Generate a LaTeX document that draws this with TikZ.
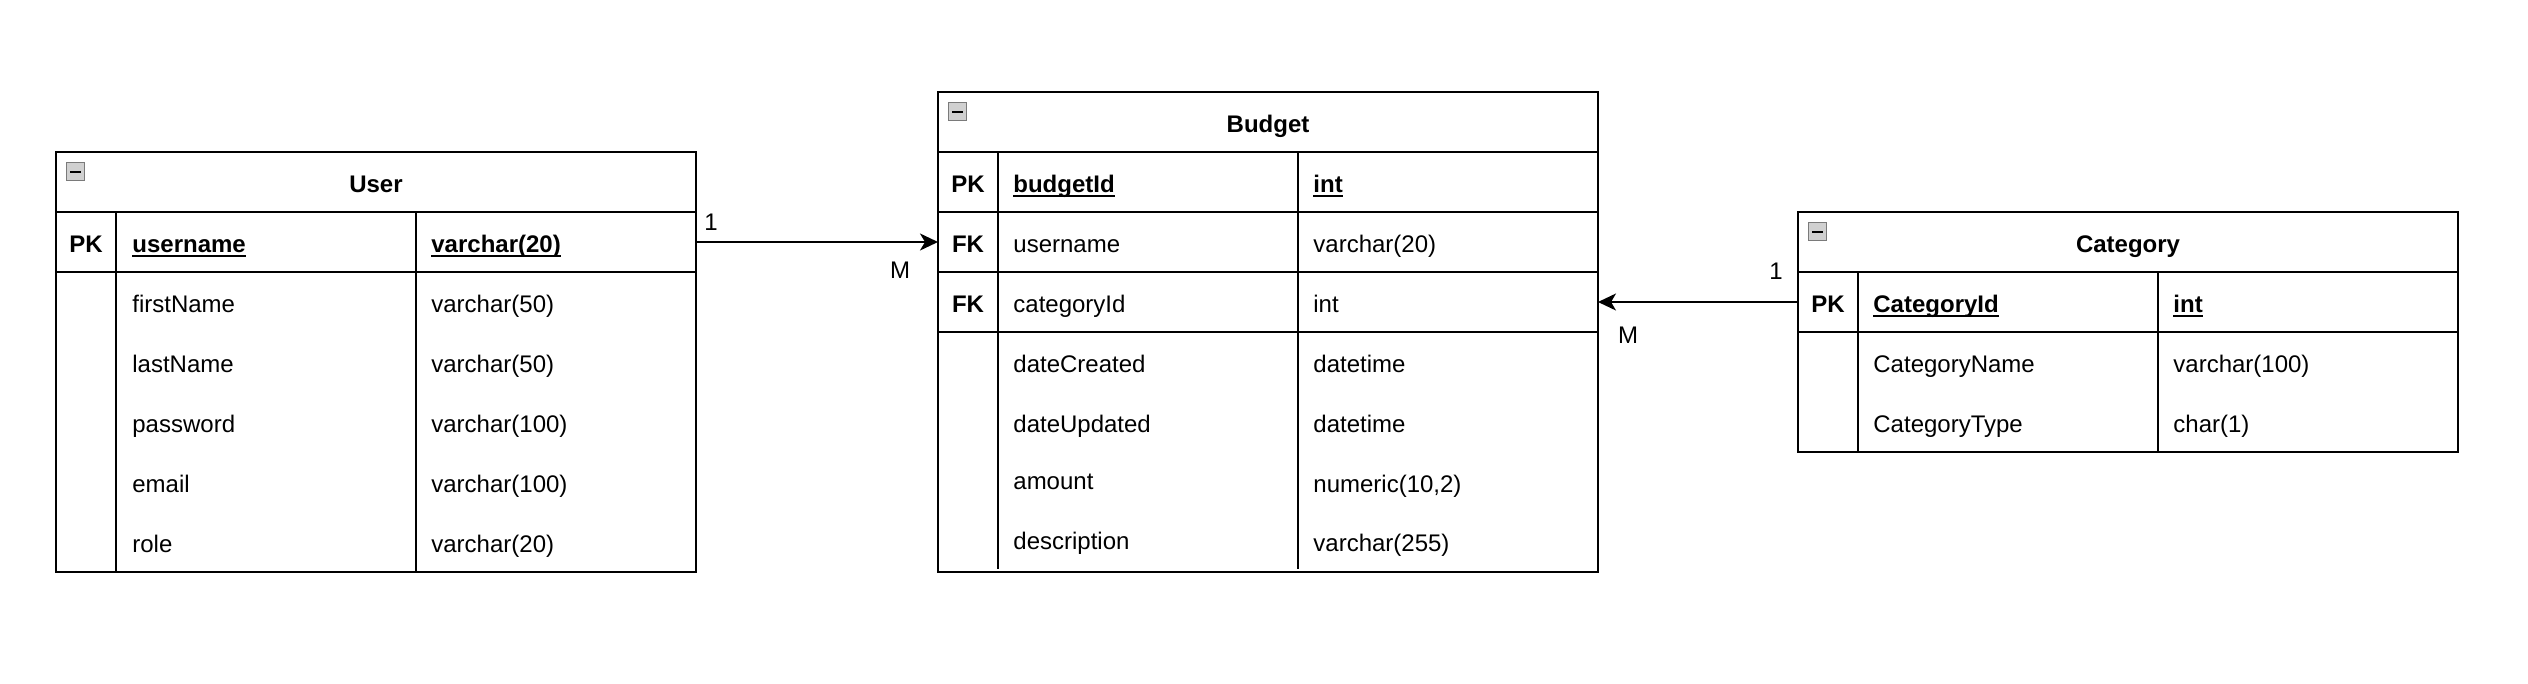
\documentclass[tikz,border=0pt]{standalone}
\usepackage{fontspec}
\setmainfont{Liberation Sans}
\usetikzlibrary{arrows.meta}
\newcommand\myul[1]{\setbox0\hbox{#1}\rlap{\rule[-2.2pt]{\wd0}{0.9pt}}\box0}
\definecolor{iconfill}{HTML}{D0D0D0}
\definecolor{iconline}{HTML}{7A7A7A}
\begin{document}
\begin{tikzpicture}[x=1pt,y=-1pt,
  font=\fontsize{12}{14}\selectfont,
  box/.style={draw, line width=1pt, inner sep=0pt, outer sep=0pt, anchor=north west,
    text height=10.4pt, text depth=0pt},
  hdr/.style={box, minimum height=30pt, font=\fontsize{12}{14}\selectfont\bfseries},
  rowbox/.style={box, minimum height=30pt},
  divline/.style={line width=1pt},
  txt/.style={inner sep=0pt, text height=10.4pt, text depth=0pt},
  keyt/.style={txt, anchor=center, font=\fontsize{12}{14}\selectfont\bfseries},
  namet/.style={txt, anchor=west},
  pkt/.style={namet, font=\fontsize{12}{14}\selectfont\bfseries},
  lbl/.style={txt, anchor=center},
  icon/.style={draw=iconline, fill=iconfill, line width=0.7pt, anchor=north west,
    minimum width=9pt, minimum height=9pt, inner sep=0pt,
    path picture={\draw[black, line width=1.1pt]
      ([xshift=1.8pt]path picture bounding box.west) -- ([xshift=-1.8pt]path picture bounding box.east);}},
  conn/.style={line width=1pt, -{Stealth[length=9pt, width=8.5pt, inset=2.5pt]}}
]
\fill[white] (0,0) rectangle (1264,342);
\useasboundingbox (0,0) rectangle (1264,342);

% ---------------- User ----------------
\node[hdr, minimum width=320pt] (user) at (28,76) {User};
\node[icon] (user-icon) at (33,81) {};
\node[rowbox, minimum width=320pt] (user-pk) at (28,106) {};
\node[box, minimum width=320pt, minimum height=150pt] (user-body) at (28,136) {};
\draw[divline] ([xshift=30pt]user-pk.north west) -- ([xshift=30pt]user-body.south west);
\draw[divline] ([xshift=180pt]user-pk.north west) -- ([xshift=180pt]user-body.south west);
\node[keyt] (user-pk-k) at (43,121) {PK};
\node[pkt] (user-pk-n) at (66,121) {\myul{username}};
\node[pkt] (user-pk-t) at (215.5,121) {\myul{varchar(20)}};
\node[namet] (user-r1-n) at (66,151) {firstName};
\node[namet] (user-r1-t) at (215.5,151) {varchar(50)};
\node[namet] (user-r2-n) at (66,181) {lastName};
\node[namet] (user-r2-t) at (215.5,181) {varchar(50)};
\node[namet] (user-r3-n) at (66,211) {password};
\node[namet] (user-r3-t) at (215.5,211) {varchar(100)};
\node[namet] (user-r4-n) at (66,241) {email};
\node[namet] (user-r4-t) at (215.5,241) {varchar(100)};
\node[namet] (user-r5-n) at (66,271) {role};
\node[namet] (user-r5-t) at (215.5,271) {varchar(20)};

% ---------------- Budget ----------------
\node[hdr, minimum width=330pt] (bud) at (469,46) {Budget};
\node[icon] (bud-icon) at (474,51) {};
\node[rowbox, minimum width=330pt] (bud-pk) at (469,76) {};
\node[rowbox, minimum width=330pt] (bud-fk1) at (469,106) {};
\node[rowbox, minimum width=330pt] (bud-fk2) at (469,136) {};
\node[box, minimum width=330pt, minimum height=120pt] (bud-body) at (469,166) {};
\draw[divline] ([xshift=30pt]bud-pk.north west) -- ([xshift=30pt,yshift=1.6pt]bud-body.south west);
\draw[divline] ([xshift=180pt]bud-pk.north west) -- ([xshift=180pt,yshift=1.6pt]bud-body.south west);
\node[keyt] (bud-pk-k) at (484,91) {PK};
\node[pkt] (bud-pk-n) at (506.5,91) {\myul{budgetId}};
\node[pkt] (bud-pk-t) at (656.5,91) {\myul{int}};
\node[keyt] (bud-fk1-k) at (484,121) {FK};
\node[namet] (bud-fk1-n) at (506.5,121) {username};
\node[namet] (bud-fk1-t) at (656.5,121) {varchar(20)};
\node[keyt] (bud-fk2-k) at (484,151) {FK};
\node[namet] (bud-fk2-n) at (506.5,151) {categoryId};
\node[namet] (bud-fk2-t) at (656.5,151) {int};
\node[namet] (bud-r1-n) at (506.5,181) {dateCreated};
\node[namet] (bud-r1-t) at (656.5,181) {datetime};
\node[namet] (bud-r2-n) at (506.5,211) {dateUpdated};
\node[namet] (bud-r2-t) at (656.5,211) {datetime};
\node[namet] (bud-r3-n) at (506.5,239.5) {amount};
\node[namet] (bud-r3-t) at (656.5,241) {numeric(10,2)};
\node[namet] (bud-r4-n) at (506.5,269.5) {description};
\node[namet] (bud-r4-t) at (656.5,270.5) {varchar(255)};

% ---------------- Category ----------------
\node[hdr, minimum width=330pt] (cat) at (899,106) {Category};
\node[icon] (cat-icon) at (904,111) {};
\node[rowbox, minimum width=330pt] (cat-pk) at (899,136) {};
\node[box, minimum width=330pt, minimum height=60pt] (cat-body) at (899,166) {};
\draw[divline] ([xshift=30pt]cat-pk.north west) -- ([xshift=30pt]cat-body.south west);
\draw[divline] ([xshift=180pt]cat-pk.north west) -- ([xshift=180pt]cat-body.south west);
\node[keyt] (cat-pk-k) at (914,151) {PK};
\node[pkt] (cat-pk-n) at (936.5,151) {\myul{CategoryId}};
\node[pkt] (cat-pk-t) at (1086.5,151) {\myul{int}};
\node[namet] (cat-r1-n) at (936.5,181) {CategoryName};
\node[namet] (cat-r1-t) at (1086.5,181) {varchar(100)};
\node[namet] (cat-r2-n) at (936.5,211) {CategoryType};
\node[namet] (cat-r2-t) at (1086.5,211) {char(1)};

% ---------------- Connectors ----------------
\draw[conn] (user-pk.east) -- (bud-fk1.west);
\draw[conn] (cat-pk.west) -- (bud-fk2.east);
\node[lbl] (c1-src) at (355.5,110) {1};
\node[lbl] (c1-dst) at (450,134) {M};
\node[lbl] (c2-src) at (888,134.5) {1};
\node[lbl] (c2-dst) at (814,166.5) {M};
\end{tikzpicture}
\end{document}
